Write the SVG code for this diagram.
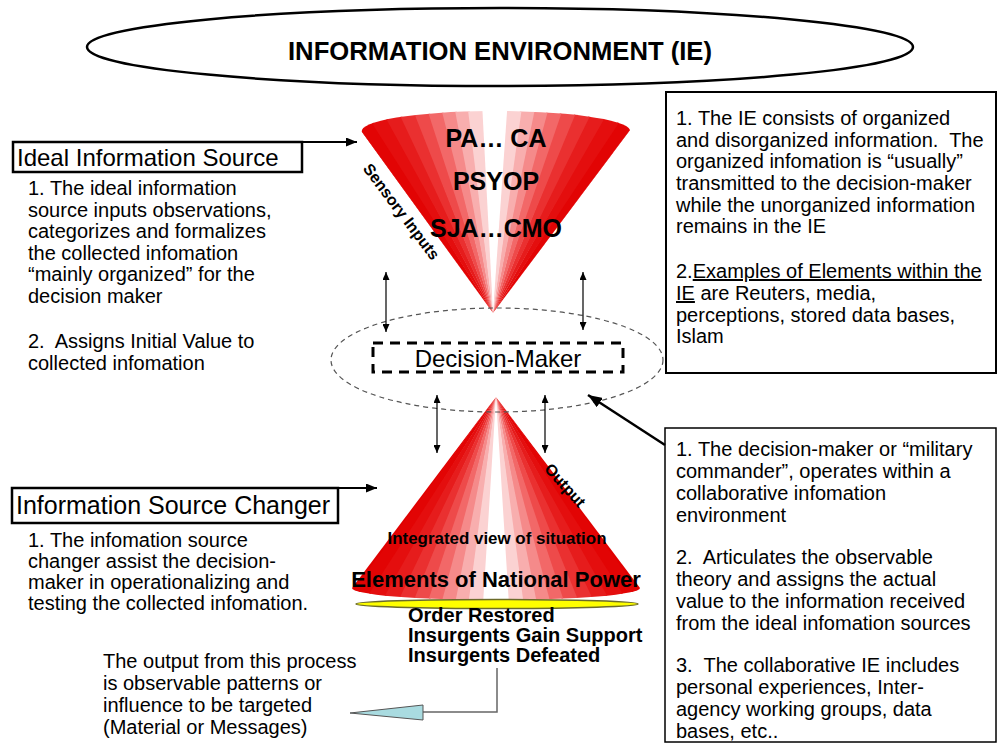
<svg xmlns="http://www.w3.org/2000/svg" xmlns:xlink="http://www.w3.org/1999/xlink" width="997" height="745" viewBox="0 0 997 745">
<style>
.t{font-family:"Liberation Sans",Arial,sans-serif;font-size:20px;fill:#000}
.b{font-weight:bold}
.box{fill:#fff;stroke:#000}
.thin{stroke:#000;stroke-width:1.2;fill:none}
.u{text-decoration:underline}
</style>
<defs>
<path id="w" d="M0,0 L-9.5,-270 L9.5,-270 Z"/>
<clipPath id="clipTop"><path d="M493,313 L362,132 A134,20 0 0 1 630,130 Z"/></clipPath>
<clipPath id="clipBot"><path d="M496,397 L352,588 A144,12 0 0 0 640,588 Z"/></clipPath>
<marker id="sm" markerUnits="userSpaceOnUse" viewBox="0 0 8 7" markerWidth="8" markerHeight="7" refX="8" refY="3.5" orient="auto-start-reverse"><path d="M0,0 L8,3.5 L0,7 Z" fill="#000"/></marker>
<marker id="md" markerUnits="userSpaceOnUse" viewBox="0 0 11 9" markerWidth="11" markerHeight="9" refX="11" refY="4.5" orient="auto"><path d="M0,0 L11,4.5 L0,9 Z" fill="#000"/></marker>
<marker id="lg" markerUnits="userSpaceOnUse" viewBox="0 0 14 11" markerWidth="14" markerHeight="11" refX="14" refY="5.5" orient="auto"><path d="M0,0 L14,5.5 L0,11 Z" fill="#000"/></marker>
</defs>
<rect width="997" height="745" fill="#fff"/>

<g id="ie-title">
<ellipse cx="500" cy="47" rx="413" ry="39" fill="#fff" stroke="#000" stroke-width="2.5"/>
<text class="t b" x="500" y="60" style="font-size:25px" text-anchor="middle" textLength="424" lengthAdjust="spacingAndGlyphs">INFORMATION ENVIRONMENT (IE)</text>
</g>

<g id="ie-notes">
<rect class="box" x="666" y="92" width="330" height="281" stroke-width="2"/>
<text class="t">
<tspan x="676" y="125">1. The IE consists of organized</tspan>
<tspan x="676" y="146.7">and disorganized information.&#160; The</tspan>
<tspan x="676" y="168.3">organized infomation is “usually”</tspan>
<tspan x="676" y="190">transmitted to the decision-maker</tspan>
<tspan x="676" y="211.7">while the unorganized information</tspan>
<tspan x="676" y="233.3">remains in the IE</tspan>
<tspan x="676" y="278">2.<tspan class="u">Examples of Elements within the</tspan></tspan>
<tspan x="676" y="300"><tspan class="u">IE</tspan> are Reuters, media,</tspan>
<tspan x="676" y="321.5">perceptions, stored data bases,</tspan>
<tspan x="676" y="343">Islam</tspan>
</text>
</g>

<g id="ideal-source">
<rect class="box" x="13" y="142" width="289" height="30" stroke-width="2.5"/>
<text class="t" x="17" y="166" style="font-size:24px">Ideal Information Source</text>
<text class="t">
<tspan x="28" y="195">1. The ideal information</tspan>
<tspan x="28" y="217">source inputs observations,</tspan>
<tspan x="28" y="238">categorizes and formalizes</tspan>
<tspan x="28" y="260">the collected infomation</tspan>
<tspan x="28" y="281">“mainly organized” for the</tspan>
<tspan x="28" y="303">decision maker</tspan>
<tspan x="28" y="348">2.&#160; Assigns Initial Value to</tspan>
<tspan x="28" y="370">collected infomation</tspan>
</text>
</g>

<g id="cone-top">
<g clip-path="url(#clipTop)">
<g transform="translate(493,313)">
<use xlink:href="#w" fill="#e00000" transform="rotate(-42)"/>
<use xlink:href="#w" fill="#e00000" transform="rotate(-37.8)"/>
<use xlink:href="#w" fill="#e20404" transform="rotate(-34.1)"/>
<use xlink:href="#w" fill="#e40e0e" transform="rotate(-30.5)"/>
<use xlink:href="#w" fill="#e61c1c" transform="rotate(-26.8)"/>
<use xlink:href="#w" fill="#ea3030" transform="rotate(-23.2)"/>
<use xlink:href="#w" fill="#ee4a4a" transform="rotate(-19.5)"/>
<use xlink:href="#w" fill="#f26868" transform="rotate(-15.9)"/>
<use xlink:href="#w" fill="#f58a8a" transform="rotate(-12.2)"/>
<use xlink:href="#w" fill="#f8aeae" transform="rotate(-8.6)"/>
<use xlink:href="#w" fill="#fbd2d2" transform="rotate(-5)"/>
<use xlink:href="#w" fill="#e00000" transform="rotate(42)"/>
<use xlink:href="#w" fill="#e00000" transform="rotate(38.8)"/>
<use xlink:href="#w" fill="#e20404" transform="rotate(35.1)"/>
<use xlink:href="#w" fill="#e40e0e" transform="rotate(31.5)"/>
<use xlink:href="#w" fill="#e61c1c" transform="rotate(27.8)"/>
<use xlink:href="#w" fill="#ea3030" transform="rotate(24.2)"/>
<use xlink:href="#w" fill="#ee4a4a" transform="rotate(20.5)"/>
<use xlink:href="#w" fill="#f26868" transform="rotate(16.9)"/>
<use xlink:href="#w" fill="#f58a8a" transform="rotate(13.2)"/>
<use xlink:href="#w" fill="#f8aeae" transform="rotate(9.6)"/>
<use xlink:href="#w" fill="#fbd2d2" transform="rotate(6)"/>
<use xlink:href="#w" fill="#ffffff" transform="rotate(0.5)"/>
</g>
</g>
<text class="t b" x="496" y="147" style="font-size:25px" text-anchor="middle">PA… CA</text>
<text class="t b" x="496" y="190" style="font-size:25px" text-anchor="middle">PSYOP</text>
<text class="t b" x="496" y="237" style="font-size:25px" text-anchor="middle">SJA…CMO</text>
<text class="t b" x="397" y="215" style="font-size:16px" text-anchor="middle" transform="rotate(53 397 215)">Sensory Inputs</text>
</g>

<g id="cone-bottom">
<g clip-path="url(#clipBot)">
<g transform="translate(496,397)">
<use xlink:href="#w" fill="#e00000" transform="rotate(138)"/>
<use xlink:href="#w" fill="#e00000" transform="rotate(142)"/>
<use xlink:href="#w" fill="#e20404" transform="rotate(145.6)"/>
<use xlink:href="#w" fill="#e40e0e" transform="rotate(149.2)"/>
<use xlink:href="#w" fill="#e61c1c" transform="rotate(152.8)"/>
<use xlink:href="#w" fill="#ea3030" transform="rotate(156.4)"/>
<use xlink:href="#w" fill="#ee4a4a" transform="rotate(160)"/>
<use xlink:href="#w" fill="#f26868" transform="rotate(163.6)"/>
<use xlink:href="#w" fill="#f58a8a" transform="rotate(167.2)"/>
<use xlink:href="#w" fill="#f8aeae" transform="rotate(170.8)"/>
<use xlink:href="#w" fill="#fbd2d2" transform="rotate(174.4)"/>
<use xlink:href="#w" fill="#e00000" transform="rotate(222)"/>
<use xlink:href="#w" fill="#e00000" transform="rotate(218)"/>
<use xlink:href="#w" fill="#e20404" transform="rotate(214.4)"/>
<use xlink:href="#w" fill="#e40e0e" transform="rotate(210.8)"/>
<use xlink:href="#w" fill="#e61c1c" transform="rotate(207.2)"/>
<use xlink:href="#w" fill="#ea3030" transform="rotate(203.6)"/>
<use xlink:href="#w" fill="#ee4a4a" transform="rotate(200)"/>
<use xlink:href="#w" fill="#f26868" transform="rotate(196.4)"/>
<use xlink:href="#w" fill="#f58a8a" transform="rotate(192.8)"/>
<use xlink:href="#w" fill="#f8aeae" transform="rotate(189.2)"/>
<use xlink:href="#w" fill="#fbd2d2" transform="rotate(185.6)"/>
<use xlink:href="#w" fill="#ffffff" transform="rotate(180)"/>
</g>
</g>
<ellipse cx="497" cy="604" rx="141" ry="4.5" fill="#ffff00" stroke="#6b6b2a" stroke-width="1.5"/>
<text class="t b" x="561" y="489" style="font-size:16px" text-anchor="middle" transform="rotate(48 561 489)">Output</text>
<text class="t b" x="497" y="544" style="font-size:17px" text-anchor="middle" textLength="219" lengthAdjust="spacingAndGlyphs">Integrated view of situation</text>
<text class="t b" x="496" y="587" style="font-size:22px" text-anchor="middle">Elements of National Power</text>
</g>

<g id="decision-maker">
<ellipse cx="497" cy="360" rx="166" ry="52" fill="none" stroke="#555" stroke-width="1.2" stroke-dasharray="5 4"/>
<rect x="373" y="343" width="250" height="29" fill="none" stroke="#000" stroke-width="3" stroke-dasharray="10 7"/>
<text class="t" x="498" y="367" style="font-size:24px" text-anchor="middle">Decision-Maker</text>
</g>

<g id="changer">
<rect class="box" x="12" y="488" width="326" height="35" stroke-width="2.5"/>
<text class="t" x="16" y="514" style="font-size:25px">Information Source Changer</text>
<text class="t">
<tspan x="28" y="547">1. The infomation source</tspan>
<tspan x="28" y="568">changer assist the decision-</tspan>
<tspan x="28" y="589">maker in operationalizing and</tspan>
<tspan x="28" y="610">testing the collected infomation.</tspan>
</text>
</g>

<g id="dm-notes">
<rect class="box" x="665" y="428" width="331" height="314" stroke-width="1.5"/>
<text class="t">
<tspan x="676" y="456">1. The decision-maker or “military</tspan>
<tspan x="676" y="478">commander”, operates within a</tspan>
<tspan x="676" y="500">collaborative infomation</tspan>
<tspan x="676" y="522">environment</tspan>
<tspan x="676" y="564">2.&#160; Articulates the observable</tspan>
<tspan x="676" y="586">theory and assigns the actual</tspan>
<tspan x="676" y="608">value to the information received</tspan>
<tspan x="676" y="630">from the ideal infomation sources</tspan>
<tspan x="676" y="672">3.&#160; The collaborative IE includes</tspan>
<tspan x="676" y="694">personal experiences, Inter-</tspan>
<tspan x="676" y="716">agency working groups, data</tspan>
<tspan x="676" y="738">bases, etc..</tspan>
</text>
</g>

<g id="outcomes">
<text class="t b">
<tspan x="408" y="622">Order Restored</tspan>
<tspan x="408" y="642">Insurgents Gain Support</tspan>
<tspan x="408" y="662">Insurgents Defeated</tspan>
</text>
</g>

<g id="output-note">
<text class="t">
<tspan x="103" y="668">The output from this process</tspan>
<tspan x="103" y="690">is observable patterns or</tspan>
<tspan x="103" y="712">influence to be targeted</tspan>
<tspan x="103" y="734">(Material or Messages)</tspan>
</text>
</g>

<g id="connectors">
<path d="M302,142 H357" stroke="#000" stroke-width="2" fill="none" marker-end="url(#md)"/>
<path d="M338,488 H377" stroke="#000" stroke-width="2" fill="none" marker-end="url(#md)"/>
<path class="thin" d="M386,272 V332" marker-start="url(#sm)" marker-end="url(#sm)"/>
<path class="thin" d="M583,272 V330" marker-start="url(#sm)" marker-end="url(#sm)"/>
<path class="thin" d="M437,395 V453" marker-start="url(#sm)" marker-end="url(#sm)"/>
<path class="thin" d="M545,395 V453" marker-start="url(#sm)" marker-end="url(#sm)"/>
<path d="M665,445 L588,395" stroke="#000" stroke-width="2.5" fill="none" marker-end="url(#lg)"/>
<path d="M497,668 V712 H423" stroke="#666" stroke-width="1.5" fill="none"/>
<path d="M423,705 L423,720 L350,713 Z" fill="#a9dbe0" stroke="#555" stroke-width="1"/>
</g>
</svg>
